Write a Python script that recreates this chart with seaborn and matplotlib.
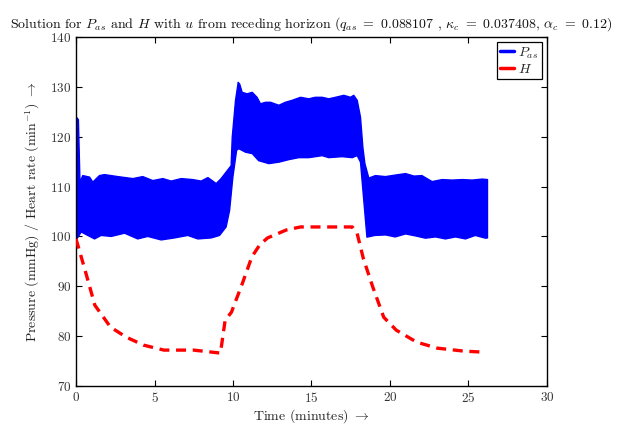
import matplotlib
matplotlib.use("Agg")
import matplotlib.pyplot as plt
from matplotlib.lines import Line2D
import seaborn as sns
import numpy as np
import pandas as pd

# Arterial pressure band (beat-to-beat max / min envelope), minutes vs mmHg
p_upper_t = [0.0, 0.12, 0.22, 0.4, 0.83, 1.04, 1.46, 1.78, 2.63, 3.59, 4.22, 4.86, 5.5,
             6.03, 6.67, 7.41, 7.94, 8.37, 8.9, 9.21, 9.53, 9.85, 9.92, 10.13, 10.3, 10.4,
             10.55, 10.87, 11.19, 11.5, 11.72, 12.04, 12.36, 12.89, 13.3, 13.74, 14.27,
             14.8, 15.2, 15.65, 16.07, 16.5, 17.03, 17.45, 17.66, 17.88, 18.09, 18.24,
             18.37, 18.62, 19.04, 19.68, 20.3, 20.96, 21.5, 22.0, 22.65, 23.29, 23.93,
             24.57, 25.2, 25.85, 26.18]
p_upper_v = [124.0, 123.5, 111.0, 112.3, 112.0, 111.0, 112.3, 112.5, 112.1, 111.7, 112.1,
             111.3, 111.7, 111.2, 111.7, 111.5, 111.2, 111.9, 110.7, 111.7, 113.0, 114.3,
             120.0, 127.4, 131.0, 130.6, 129.0, 128.7, 129.0, 128.0, 126.7, 127.0, 127.0,
             126.4, 127.0, 127.4, 128.0, 127.7, 128.0, 128.0, 127.7, 128.0, 128.4, 128.0,
             128.4, 127.4, 124.0, 118.0, 114.7, 111.8, 112.3, 112.1, 112.4, 112.7, 112.2,
             112.3, 111.1, 111.5, 111.4, 111.5, 111.4, 111.6, 111.5]
p_lower_t = [0.0, 0.3, 0.72, 1.15, 1.57, 2.21, 3.06, 3.9, 4.54, 5.39, 6.24, 7.09, 7.73,
             8.58, 9.11, 9.53, 9.75, 9.96, 10.2, 10.34, 10.76, 11.2, 11.6, 12.25, 12.9,
             13.52, 14.16, 14.8, 15.65, 16.07, 16.92, 17.56, 17.88, 18.09, 18.5, 19.0,
             19.7, 20.3, 20.96, 21.6, 22.23, 22.87, 23.5, 24.14, 24.78, 25.4, 26.05, 26.18]
p_lower_v = [99.5, 101.0, 100.3, 99.6, 100.3, 100.1, 100.75, 99.6, 100.1, 99.4, 99.8,
             100.3, 99.6, 99.8, 100.3, 102.0, 105.3, 112.0, 117.4, 117.7, 117.0, 116.7,
             115.3, 114.7, 115.0, 115.5, 115.9, 115.9, 116.3, 115.9, 116.1, 115.9, 116.3,
             115.0, 99.95, 100.3, 100.4, 100.0, 100.6, 100.2, 99.75, 100.0, 99.6, 100.0,
             99.6, 100.3, 99.75, 99.8]

# Heart rate (beats per minute)
h_t = [0.0, 0.57, 1.2, 2.2, 3.2, 4.3, 5.6, 7.5, 9.2, 9.5, 9.9, 10.6, 11.2, 11.7, 12.2,
       13.4, 14.3, 17.6, 17.9, 18.3, 18.9, 19.6, 20.4, 21.7, 23.0, 24.7, 25.9]
h_v = [99.5, 93.3, 86.2, 81.8, 79.8, 78.2, 77.2, 77.2, 76.6, 83.2, 84.8, 90.6, 95.9, 98.3,
       99.7, 101.3, 101.9, 101.9, 100.7, 95.6, 89.9, 83.8, 81.2, 78.8, 77.6, 77.0, 76.8]

x_ticks = [0, 5, 10, 15, 20, 25, 30]
y_ticks = [70, 80, 90, 100, 110, 120, 130, 140]

sns.set_style("ticks")
plt.rcParams["font.family"] = ["cmr10"]
plt.rcParams["mathtext.fontset"] = "cm"
plt.rcParams["axes.formatter.use_mathtext"] = True

fig = plt.figure(figsize=(6.17, 4.28), dpi=100)
ax = fig.add_axes([0.1232, 0.0981, 0.7633, 0.8155])

blue = "#0000ff"
red = "#ff0000"

hr = pd.DataFrame({"t": h_t, "H": h_v})

# Pressure band between the lower and upper envelopes
grid = np.union1d(p_upper_t, p_lower_t)
ax.fill_between(grid, np.interp(grid, p_lower_t, p_lower_v),
                np.interp(grid, p_upper_t, p_upper_v),
                facecolor=blue, edgecolor=blue, linewidth=1.0, zorder=2)

sns.lineplot(data=hr, x="t", y="H", ax=ax, color=red, linewidth=2.4,
             linestyle=(0, (3, 2.0)), zorder=3)

ax.set_xlim(0, 30)
ax.set_ylim(70, 140)
ax.set_xticks(x_ticks)
ax.set_yticks(y_ticks)
ax.tick_params(direction="in", length=4, width=0.8, top=True, right=True,
               labelsize=9.5, colors="black", labelcolor="#333333")
for s in ax.spines.values():
    s.set_linewidth(1.0)
    s.set_color("black")

ax.set_xlabel(r"Time (minutes) $\rightarrow$", fontsize=10, color="#222222", labelpad=2)
ax.set_ylabel(r"Pressure (mmHg) / Heart rate (min$^{-1}$) $\rightarrow$", fontsize=10,
              color="#222222", labelpad=6)
ax.set_title(r"Solution for $P_{as}$ and $H$ with $u$ from receding horizon "
             r"($q_{as}\ =\ 0.088107$ , $\kappa_c\ =\ 0.037408$, $\alpha_c\ =\ 0.12$)",
             fontsize=10.0, color="#111111", pad=7)

handles = [Line2D([], [], color=blue, linewidth=2.5),
           Line2D([], [], color=red, linewidth=2.5)]
leg = ax.legend(handles, [r"$P_{as}$", r"$H$"], loc="upper right", fontsize=10,
                frameon=True, fancybox=False, edgecolor="black", framealpha=1,
                handlelength=1.0, handletextpad=0.3, borderpad=0.25,
                labelspacing=0.15, borderaxespad=0.35)
leg.get_frame().set_linewidth(0.9)

fig.savefig("out.png", dpi=100)
